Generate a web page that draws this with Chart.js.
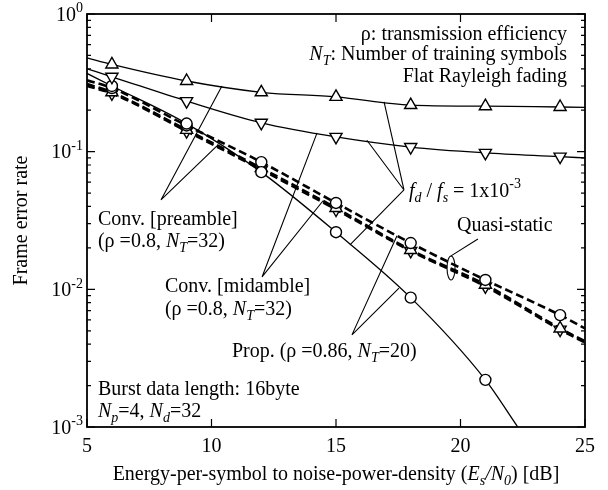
<!DOCTYPE html>
<html>
<head>
<meta charset="UTF-8">
<title>Frame error rate</title>
<style>
    body { margin: 0; padding: 0; background-color: white; }
    #ferChart { display: block; }
</style>
<script src="https://cdn.jsdelivr.net/npm/chart.js@4.4.0/dist/chart.umd.min.js"></script>
</head>
<body>
<canvas id="ferChart" width="608" height="490"></canvas>
<script>
// Es/N0 [dB] where the curves are drawn (ends have no marker)
var lineX = [5, 6, 9, 12, 15, 18, 21, 24, 25];
var markerX = [6, 9, 12, 15, 18, 21, 24];

// flat Rayleigh fading, fd/fs = 1e-3
var fadPreamble = [0.48, 0.43, 0.326, 0.27, 0.25, 0.218, 0.214, 0.211, 0.21];
var fadMidamble = [0.40, 0.35, 0.233, 0.162, 0.128, 0.108, 0.098, 0.092, 0.090];
var propX = [5, 6, 9, 12, 15, 18, 21, 22.3];
var fadProp = [0.37, 0.30, 0.16, 0.071, 0.026, 0.0087, 0.0022, 0.001];

// quasi-static
var qsProp = [0.33, 0.29, 0.155, 0.084, 0.0424, 0.0217, 0.0117, 0.0065, 0.0052];
var qsPreamble = [0.31, 0.27, 0.144, 0.076, 0.039, 0.0193, 0.0108, 0.0052, 0.0042];
var qsMidamble = [0.30, 0.265, 0.141, 0.074, 0.038, 0.019, 0.0105, 0.0051, 0.0041];

var xTickValues = [5, 10, 15, 20, 25];
var yDecades = [0, -1, -2, -3];

var FONT = "'Liberation Serif', 'Times New Roman', serif";

// callout lines, in data coordinates [x dB, FER]
var leaders = [
    [[7.97, 0.0446], [10.42, 0.30]],
    [[7.97, 0.0446], [10.22, 0.11]],
    [[12.03, 0.0123], [14.24, 0.137]],
    [[12.03, 0.0123], [14.48, 0.044]],
    [[17.73, 0.0527], [16.93, 0.23]],
    [[17.73, 0.0527], [16.24, 0.121]],
    [[17.73, 0.0527], [15.56, 0.021]],
    [[15.64, 0.00467], [17.45, 0.0245]],
    [[15.64, 0.00467], [17.53, 0.0102]],
    [[19.62, 0.0175], [20.70, 0.0232]]
];
var ellipseAt = [19.62, 0.0143];

var notes = [
    { x: 24.28, y: 0.728, align: 'right', parts: [['ρ: transmission efficiency', '']] },
    { x: 24.28, y: 0.521, align: 'right', parts: [['N', 'i'], ['T', 'sub'], [': Number of training symbols', '']] },
    { x: 24.28, y: 0.36, align: 'right', parts: [['Flat Rayleigh fading', '']] },
    { x: 17.93, y: 0.0527, align: 'left', parts: [['f', 'i'], ['d', 'sub'], [' / ', ''], ['f', 'i'], ['s', 'sub'], [' = 1x10', ''], ['-3', 'sup']] },
    { x: 19.86, y: 0.0294, align: 'left', parts: [['Quasi-static', '']] },
    { x: 5.44, y: 0.033, align: 'left', parts: [['Conv. [preamble]', '']] },
    { x: 5.44, y: 0.0225, align: 'left', parts: [['(ρ =0.8, ', ''], ['N', 'i'], ['T', 'sub'], ['=32)', '']] },
    { x: 8.13, y: 0.01076, align: 'left', parts: [['Conv. [midamble]', '']] },
    { x: 8.13, y: 0.00733, align: 'left', parts: [['(ρ =0.8, ', ''], ['N', 'i'], ['T', 'sub'], ['=32)', '']] },
    { x: 10.82, y: 0.00363, align: 'left', parts: [['Prop. (ρ =0.86, ', ''], ['N', 'i'], ['T', 'sub'], ['=20)', '']] },
    { x: 5.44, y: 0.00192, align: 'left', parts: [['Burst data length: 16byte', '']] },
    { x: 5.44, y: 0.00133, align: 'left', parts: [['N', 'i'], ['p', 'sub'], ['=4, ', ''], ['N', 'i'], ['d', 'sub'], ['=32', '']] }
];

function series(xs, ys) {
    return xs.map(function (x, i) { return { x: x, y: ys[i] }; });
}

function fontFor(kind, size) {
    var small = Math.round(size * 0.68);
    if (kind === 'i') return 'italic ' + size + 'px ' + FONT;
    if (kind === 'sub') return 'italic ' + small + 'px ' + FONT;
    if (kind === 'sup') return small + 'px ' + FONT;
    return size + 'px ' + FONT;
}

// draws a line of text made of normal / italic / sub / sup pieces, y = visual middle
function drawRich(ctx, parts, x, y, size, align) {
    var w = 0;
    parts.forEach(function (p) { ctx.font = fontFor(p[1], size); w += ctx.measureText(p[0]).width; });
    var cx = align === 'right' ? x - w : (align === 'center' ? x - w / 2 : x);
    var base = y + size * 0.33;
    ctx.textAlign = 'left';
    ctx.textBaseline = 'alphabetic';
    parts.forEach(function (p) {
        ctx.font = fontFor(p[1], size);
        var dy = 0;
        if (p[1] === 'sub') dy = size * 0.25;
        if (p[1] === 'sup') dy = -size * 0.42;
        ctx.fillText(p[0], cx, base + dy);
        cx += ctx.measureText(p[0]).width;
    });
}

function markerRadius(r) {
    return function (c) {
        if (!c.raw) return 0;
        return markerX.indexOf(c.raw.x) >= 0 ? r : 0;
    };
}

function solidSet(data, style, rot) {
    return {
        data: data,
        borderColor: '#000',
        borderWidth: 1.3,
        pointStyle: style,
        pointRotation: rot || 0,
        pointRadius: markerRadius(style === 'circle' ? 5.5 : 7),
        pointBackgroundColor: '#fff',
        pointBorderColor: '#000',
        pointBorderWidth: 1.4,
        cubicInterpolationMode: 'monotone',
        fill: false
    };
}

function dashedSet(data, style, rot) {
    var s = solidSet(data, style, rot);
    s.borderWidth = 2.6;
    s.borderDash = [8, 4];
    return s;
}

var annotate = {
    id: 'annotate',
    afterDatasetsDraw: function (chart) {
        var ctx = chart.ctx, a = chart.chartArea;
        var x = chart.scales.x, y = chart.scales.y;
        ctx.save();
        ctx.strokeStyle = '#000';
        ctx.fillStyle = '#000';

        // callout lines
        ctx.lineWidth = 1.1;
        ctx.beginPath();
        leaders.forEach(function (l) {
            ctx.moveTo(x.getPixelForValue(l[0][0]), y.getPixelForValue(l[0][1]));
            ctx.lineTo(x.getPixelForValue(l[1][0]), y.getPixelForValue(l[1][1]));
        });
        ctx.stroke();
        ctx.beginPath();
        ctx.ellipse(x.getPixelForValue(ellipseAt[0]), y.getPixelForValue(ellipseAt[1]), 4, 12, 0, 0, Math.PI * 2);
        ctx.stroke();

        // tick marks, pointing inwards
        ctx.lineWidth = 1.2;
        ctx.beginPath();
        yDecades.forEach(function (d) {
            for (var m = 1; m <= 9; m++) {
                var v = m * Math.pow(10, d);
                if (v > 1) break;
                var py = y.getPixelForValue(v);
                var len = m === 1 ? 8 : 4;
                ctx.moveTo(a.left, py); ctx.lineTo(a.left + len, py);
                ctx.moveTo(a.right, py); ctx.lineTo(a.right - len, py);
            }
        });
        xTickValues.forEach(function (v) {
            var px = x.getPixelForValue(v);
            ctx.moveTo(px, a.bottom); ctx.lineTo(px, a.bottom - 8);
            ctx.moveTo(px, a.top); ctx.lineTo(px, a.top + 8);
        });
        ctx.stroke();

        ctx.lineWidth = 1.8;
        ctx.strokeRect(a.left, a.top, a.right - a.left, a.bottom - a.top);

        // y tick labels 10^n
        yDecades.forEach(function (d) {
            drawRich(ctx, [['10', ''], [String(d), 'sup']], a.left - 4, y.getPixelForValue(Math.pow(10, d)), 20, 'right');
        });

        // notes inside the plot
        notes.forEach(function (n) {
            drawRich(ctx, n.parts, x.getPixelForValue(n.x), y.getPixelForValue(n.y), 20, n.align);
        });

        // axis titles
        drawRich(ctx, [['Energy-per-symbol to noise-power-density (', ''], ['E', 'i'], ['s', 'sub'], ['/', 'i'], ['N', 'i'], ['0', 'sub'], [') [dB]', '']],
            (a.left + a.right) / 2, 473, 20, 'center');
        ctx.translate(20, (a.top + a.bottom) / 2);
        ctx.rotate(-Math.PI / 2);
        drawRich(ctx, [['Frame error rate', '']], 0, 0, 20, 'center');
        ctx.restore();
    }
};

var ferChart = new Chart(document.getElementById('ferChart').getContext('2d'), {
    type: 'line',
    data: {
        datasets: [
            solidSet(series(lineX, fadPreamble), 'triangle'),
            solidSet(series(lineX, fadMidamble), 'triangle', 180),
            solidSet(series(propX, fadProp), 'circle'),
            dashedSet(series(lineX, qsProp), 'circle'),
            dashedSet(series(lineX, qsPreamble), 'triangle'),
            dashedSet(series(lineX, qsMidamble), 'triangle', 180)
        ]
    },
    options: {
        responsive: false,
        animation: false,
        layout: { padding: { top: 14, right: 23, left: 0, bottom: 0 } },
        plugins: { legend: { display: false }, tooltip: { enabled: false } },
        scales: {
            x: {
                type: 'linear',
                min: 5,
                max: 25,
                afterBuildTicks: function (s) { s.ticks = xTickValues.map(function (v) { return { value: v }; }); },
                ticks: { color: '#000', font: { family: FONT, size: 20 }, padding: 8, maxRotation: 0, autoSkip: false },
                grid: { display: false, drawTicks: false },
                border: { display: false },
                afterFit: function (s) { s.height = 63; }
            },
            y: {
                type: 'logarithmic',
                min: 0.001,
                max: 1,
                ticks: { display: false },
                grid: { display: false, drawTicks: false },
                border: { display: false },
                afterFit: function (s) { s.width = 87; }
            }
        }
    },
    plugins: [annotate]
});
</script>
</body>
</html>
